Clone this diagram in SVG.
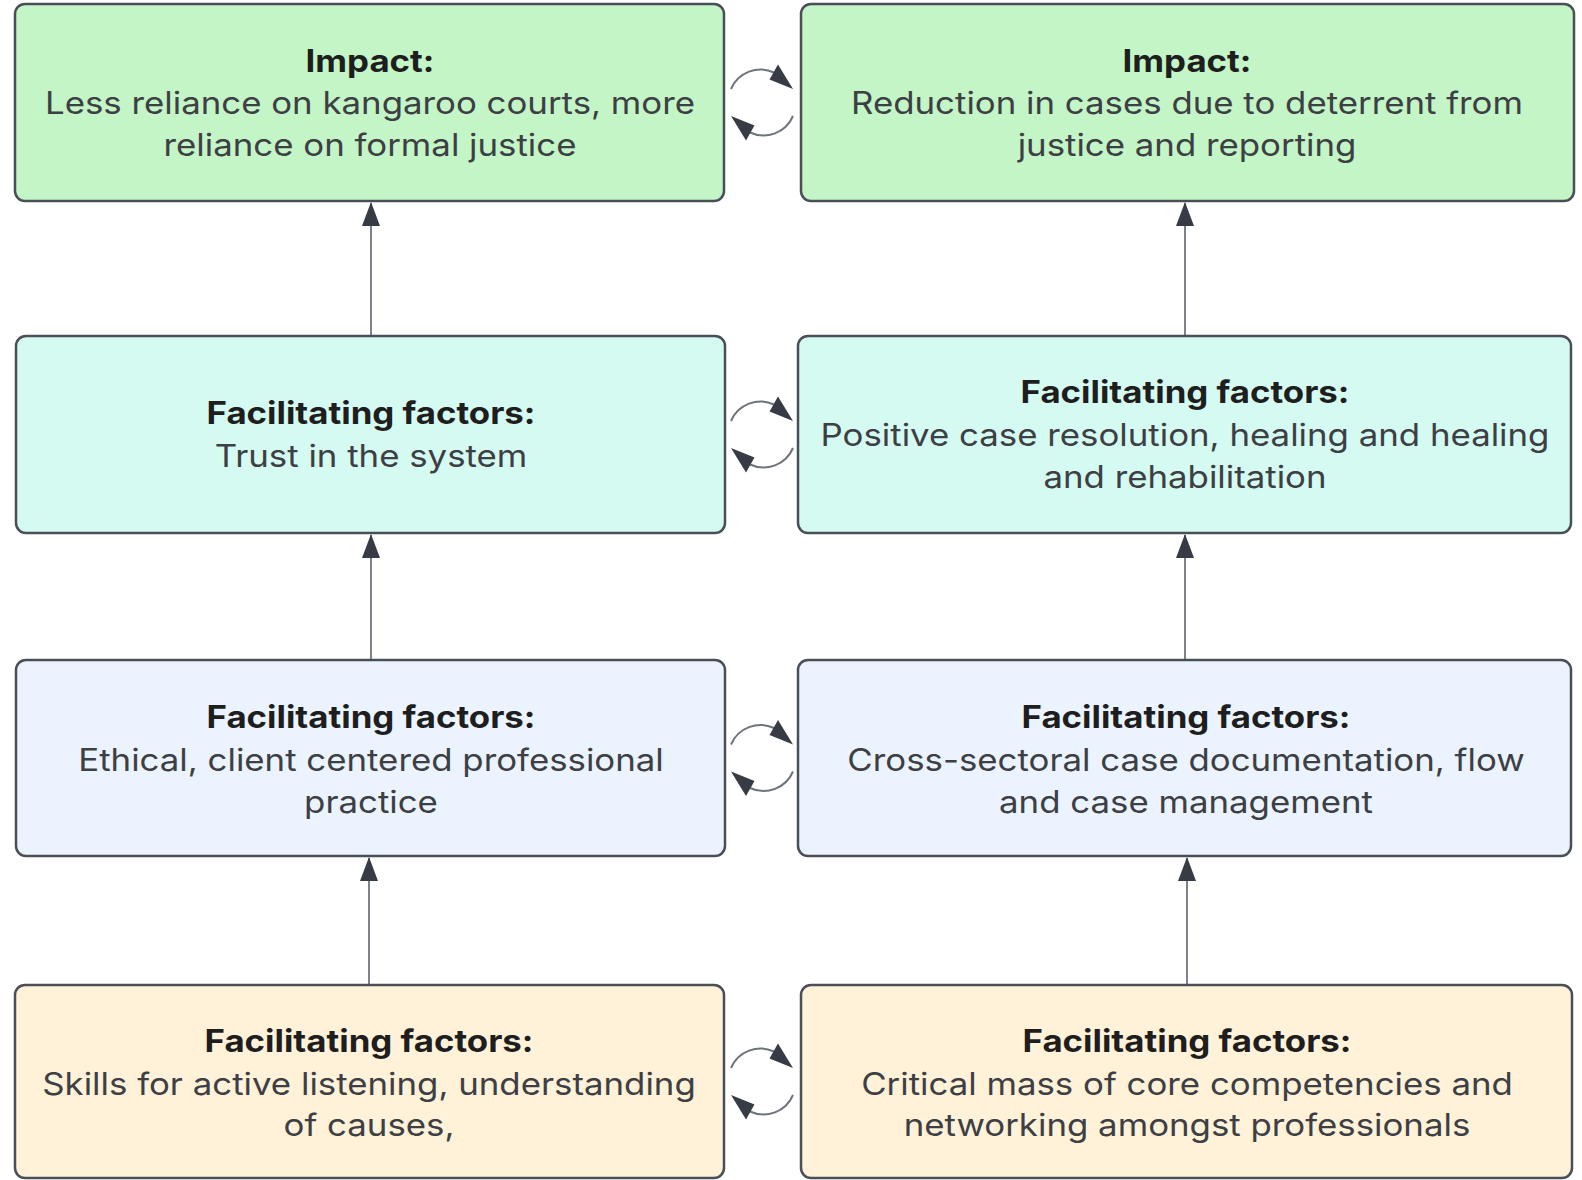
<svg xmlns="http://www.w3.org/2000/svg" width="1582" height="1180" viewBox="0 0 1582 1180">
<style>
.box{stroke:#4a4f57;stroke-width:2.5}
.g{fill:#c3f5c6}.t{fill:#d5faf1}.b{fill:#ebf4fe}.y{fill:#fff2d9}
text{font-family:Inter,"Noto Sans","Liberation Sans",sans-serif;font-size:31px;text-anchor:middle}
.h{font-weight:700;fill:#1e1e1e}
.p{fill:#3d3f44}
.ln{stroke:#7d8188;stroke-width:2;fill:none}
.cl{stroke:#6f737a;stroke-width:2;fill:none}
.hd{fill:#363b45}
</style>
<defs>
<marker id="av" viewBox="0 0 24 18" refX="23" refY="9" markerWidth="24" markerHeight="18" markerUnits="userSpaceOnUse" orient="auto"><path d="M0,0L24,9L0,18z" fill="#363b45"/></marker>
<g id="cyc">
<path class="cl" d="M-31,-13.5 A32,32 0 0,1 12,-30"/>
<path class="hd" d="M31,-13.5L16,-38L7.5,-23z"/>
<path class="cl" d="M31,13.5 A32,32 0 0,1 -12,30"/>
<path class="hd" d="M-31,13.5L-16,38L-7.5,23z"/>
</g>
</defs>
<g id="connectors">
<line class="ln" x1="371" y1="336" x2="371" y2="203" marker-end="url(#av)"/>
<line class="ln" x1="1185" y1="336" x2="1185" y2="203" marker-end="url(#av)"/>
<line class="ln" x1="371" y1="660" x2="371" y2="535" marker-end="url(#av)"/>
<line class="ln" x1="1185" y1="660" x2="1185" y2="535" marker-end="url(#av)"/>
<line class="ln" x1="369" y1="985" x2="369" y2="858" marker-end="url(#av)"/>
<line class="ln" x1="1187" y1="985" x2="1187" y2="858" marker-end="url(#av)"/>
<use href="#cyc" x="762" y="102.5"/>
<use href="#cyc" x="762" y="434.5"/>
<use href="#cyc" x="762" y="758"/>
<use href="#cyc" x="762" y="1081.5"/>
</g>
<g id="n1"><rect class="box g" x="15" y="4" width="709" height="197" rx="10"/>
<g transform="translate(370 0) scale(1.123 1)">
<text y="72" class="h">Impact:</text>
<text y="114" class="p">Less reliance on kangaroo courts, more</text>
<text y="156" class="p">reliance on formal justice</text></g></g>
<g id="n2"><rect class="box g" x="801" y="4" width="773" height="197" rx="10"/>
<g transform="translate(1187 0) scale(1.123 1)">
<text y="72" class="h">Impact:</text>
<text y="114" class="p">Reduction in cases due to deterrent from</text>
<text y="156" class="p">justice and reporting</text></g></g>
<g id="n3"><rect class="box t" x="16" y="336" width="709" height="197" rx="10"/>
<g transform="translate(371 0) scale(1.123 1)">
<text y="424" class="h">Facilitating factors:</text>
<text y="467" class="p">Trust in the system</text></g></g>
<g id="n4"><rect class="box t" x="798" y="336" width="773" height="197" rx="10"/>
<g transform="translate(1185 0) scale(1.123 1)">
<text y="403" class="h">Facilitating factors:</text>
<text y="446" class="p">Positive case resolution, healing and healing</text>
<text y="488" class="p">and rehabilitation</text></g></g>
<g id="n5"><rect class="box b" x="16" y="660" width="709" height="196" rx="10"/>
<g transform="translate(371 0) scale(1.123 1)">
<text y="728" class="h">Facilitating factors:</text>
<text y="771" class="p">Ethical, client centered professional</text>
<text y="813" class="p">practice</text></g></g>
<g id="n6"><rect class="box b" x="798" y="660" width="773" height="196" rx="10"/>
<g transform="translate(1186 0) scale(1.123 1)">
<text y="728" class="h">Facilitating factors:</text>
<text y="771" class="p">Cross-sectoral case documentation, flow</text>
<text y="813" class="p">and case management</text></g></g>
<g id="n7"><rect class="box y" x="15" y="985" width="709" height="193" rx="10"/>
<g transform="translate(369 0) scale(1.123 1)">
<text y="1052" class="h">Facilitating factors:</text>
<text y="1095" class="p">Skills for active listening, understanding</text>
<text y="1136" class="p">of causes,</text></g></g>
<g id="n8"><rect class="box y" x="801" y="985" width="771" height="193" rx="10"/>
<g transform="translate(1187 0) scale(1.123 1)">
<text y="1052" class="h">Facilitating factors:</text>
<text y="1095" class="p">Critical mass of core competencies and</text>
<text y="1136" class="p">networking amongst professionals</text></g></g>
</svg>
